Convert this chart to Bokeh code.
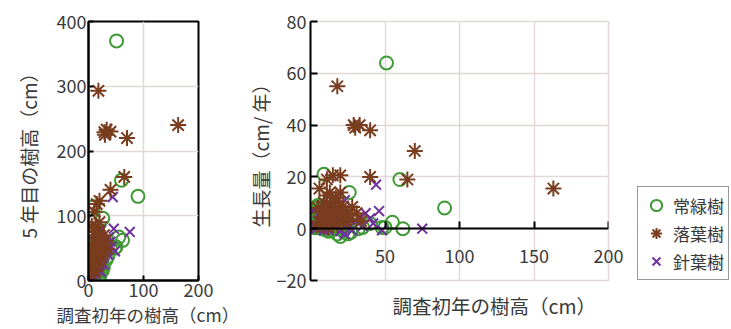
from bokeh.plotting import figure
from bokeh.layouts import row
from bokeh.models import Range1d, FixedTicker, Legend, LegendItem, LinearAxis, Title
from bokeh.embed import file_html
from bokeh.resources import INLINE

FONT = "Noto Sans CJK JP"
TXT = "#3a3a3a"
GRID = "#e2d8d8"

# ---- data: initial height (cm), height after 5 years (cm), growth (cm/year)
ever_h0 = [51, 60, 90, 9, 26, 55, 62, 50, 40, 48, 27, 5, 8, 10, 12, 15, 18, 20, 22, 6,
           4, 10, 14, 16, 25, 3, 7, 12, 20, 24, 2, 4, 6, 8, 11, 13, 17, 19, 3, 5, 26, 32, 35,
           20, 18, 12, 8, 5, 3, 10, 14, 6, 9, 16, 2, 4, 20, 22,
           3, 6, 9, 12, 15, 18, 21, 24, 1, 5, 7, 13]
ever_h5 = [370, 155, 130, 114, 96, 67, 62, 52, 50, 50, 20, 40, 50, 30, 45, 20, 55, 25, 40, 10,
           15, 8, 12, 35, 15, 5, 25, 60, 45, 50, 9, 25, 40, 15, 24, 40, 20, 30, 30, 50, 36, 32, 37,
           5, 8, 7, 8, 8, 13, 18, 29, 26, 37, 46, 17, 34, 20, 17,
           43, 51, 44, 27, 40, 38, 31, 29, 21, 15, 37, 53]
ever_g = [64, 19, 8, 21, 14, 2.5, 0, 0.5, 2, 0.5, -1.4, 7, 8.4, 4, 6.6, 1, 7.4, 1, 3.6, 0.8,
          2.2, -0.4, -0.4, 3.8, -2, 0.4, 3.6, 9.6, 5, 5.2, 1.4, 4.2, 6.8, 1.4, 2.6, 5.4, 0.6, 2.2, 5.4, 9, 2, 0, 0.5,
          -3, -2, -1, 0, 0.5, 2, 1.5, 3, 4, 5.5, 6, 3, 6, 0, -1,
          8, 9, 7, 3, 5, 4, 2, 1, 4, 2, 6, 8]

deci_h0 = [18, 29, 30, 33, 40, 70, 65, 163, 40, 20, 15, 11, 6, 13, 13, 20, 31, 8, 10, 14,
           17, 6, 12, 18, 22, 9, 16, 20, 4, 24, 11, 7, 19, 26, 13, 28, 22, 15, 9, 17, 5, 25, 34]
deci_h5 = [293, 229, 225, 233, 230, 220, 160, 240, 140, 123, 118, 106, 84, 83, 58, 55, 61, 40, 30, 50,
           70, 20, 15, 25, 35, 60, 45, 90, 10, 40, 75, 30, 60, 45, 22, 70, 65, 30, 14, 77, 45, 55, 49]
deci_g = [55, 40, 39, 40, 38, 30, 19, 15.5, 20, 20.6, 20.6, 19, 15.5, 14, 9, 7, 6, 6.4, 4, 7.2,
          10.6, 2.8, 0.6, 1.4, 2.6, 10.2, 5.8, 14, 1.2, 3.2, 12.8, 4.6, 8.2, 3.8, 1.8, 8.4, 8.6, 3, 1, 12, 8, 6, 3]

coni_h0 = [44, 46, 75, 48, 37, 23, 23, 2, 5, 8, 10, 12, 15, 18, 20, 25, 30, 33, 28, 35,
           3, 6, 22, 40, 14, 42, 4, 7, 11, 16, 9, 19]
coni_h5 = [129, 80, 75, 45, 67, 78, 13, 37, 20, 15, 30, 10, 25, 40, 15, 35, 45, 55, 25, 40,
           8, 35, 50, 60, 60, 52, 4, 17, 41, 21, 6, 52]
coni_g = [17, 6.8, 0, -0.6, 6, 11, -2, 7, 3, 1.4, 4, -0.4, 2, 4.4, -1, 2, 3, 4.4, -0.6, 1,
          1, 5.8, 5.6, 4, 9.2, 2, 0, 2, 6, 1, -0.6, 6.5]

names = ["常緑樹", "落葉樹", "針葉樹"]
colors = ["#3f9a35", "#7a3c1e", "#7030a0"]

left_x_ticks = [0, 100, 200]
left_y_ticks = [0, 100, 200, 300, 400]
right_x_ticks = [50, 100, 150, 200]
right_y_ticks = [-20, 0, 20, 40, 60, 80]

xlabel = "調査初年の樹高（cm）"
ylabel_left = "5 年目の樹高（cm）"
ylabel_right = "生長量（cm/ 年）"

H = 329


def style_axis(ax):
    ax.major_label_text_font = FONT
    ax.major_label_text_font_size = "18px"
    ax.major_label_text_color = TXT
    ax.minor_tick_line_color = None
    ax.axis_line_color = "black"
    ax.axis_line_width = 2
    ax.major_tick_line_color = "black"
    ax.major_tick_line_width = 2
    ax.major_tick_out = 0
    ax.axis_label_text_font = FONT
    ax.axis_label_text_font_size = "19px"
    ax.axis_label_text_font_style = "normal"
    ax.axis_label_text_color = TXT


def style_grid(p):
    p.grid.grid_line_color = GRID
    p.grid.grid_line_width = 1.5


def add_title(p, text, place, align, offset, standoff, size):
    t = Title(text=text, align=align, offset=offset, standoff=standoff,
              text_font=FONT, text_font_size=size, text_font_style="normal",
              text_color=TXT)
    p.add_layout(t, place)


def draw(p, xs, ys):
    rc = p.scatter(xs[0], ys[0], marker="circle", size=13, fill_color=None,
                   line_color=colors[0], line_width=2)
    rx = p.scatter(xs[2], ys[2], marker="x", size=14,
                   line_color=colors[2], line_width=2)
    ra = p.scatter(xs[1], ys[1], marker="asterisk", size=16,
                   line_color=colors[1], line_width=2)
    return [rc, ra, rx]


# ---- left panel
p1 = figure(width=244, height=H, x_range=Range1d(0, 200), y_range=Range1d(0, 400),
            output_backend="svg", toolbar_location=None,
            min_border_left=88, min_border_right=46, min_border_top=21, min_border_bottom=47)
for ax in p1.xaxis + p1.yaxis:
    style_axis(ax)
    ax.major_tick_in = 5
    ax.major_label_standoff = 2
p1.xaxis.ticker = FixedTicker(ticks=left_x_ticks)
p1.yaxis.ticker = FixedTicker(ticks=left_y_ticks)
p1.xgrid.ticker = FixedTicker(ticks=left_x_ticks)
p1.ygrid.ticker = FixedTicker(ticks=left_y_ticks)
p1.yaxis.axis_label = ylabel_left
p1.yaxis.axis_label_standoff = 12
style_grid(p1)
p1.outline_line_color = "black"
p1.outline_line_width = 2
p1.outline_line_alpha = 1
draw(p1, [ever_h0, deci_h0, coni_h0], [ever_h5, deci_h5, coni_h5])
add_title(p1, xlabel, "below", "left", -32, 0, "17.5px")

# ---- right panel
p2 = figure(width=384, height=H, x_range=Range1d(0, 200), y_range=Range1d(-20, 80),
            output_backend="svg", toolbar_location=None,
            min_border_left=64, min_border_right=20, min_border_top=21, min_border_bottom=49)
for ax in p2.xaxis + p2.yaxis:
    style_axis(ax)
# frame-bottom axis: only its tick labels, lifted up to sit under the y=0 line
bx = p2.xaxis[0]
bx.ticker = FixedTicker(ticks=right_x_ticks)
bx.axis_line_color = None
bx.major_tick_line_color = None
bx.major_label_standoff = -32
bx.axis_label = " "
bx.axis_label_text_font_size = "6px"
bx.axis_label_standoff = 11
# axis drawn through y = 0
zx = LinearAxis(fixed_location=0, ticker=FixedTicker(ticks=right_x_ticks))
style_axis(zx)
zx.major_tick_in = 7
zx.major_label_standoff = 0
zx.major_label_text_font_size = "0px"
zx.major_label_text_alpha = 0
p2.add_layout(zx, "below")
p2.yaxis.ticker = FixedTicker(ticks=right_y_ticks)
p2.yaxis.major_tick_in = 7
p2.yaxis.major_label_standoff = 4
p2.xgrid.ticker = FixedTicker(ticks=[0] + right_x_ticks)
p2.ygrid.ticker = FixedTicker(ticks=right_y_ticks)
style_grid(p2)
p2.outline_line_color = GRID
p2.outline_line_width = 1.5
draw(p2, [ever_h0, deci_h0, coni_h0], [ever_g, deci_g, coni_g])
add_title(p2, ylabel_right, "left", "center", 0, 0, "19px")
add_title(p2, xlabel, "below", "left", 82, 0, "19.5px")

# ---- legend panel
p3 = figure(width=103, height=H, x_range=Range1d(0, 1), y_range=Range1d(0, 1),
            output_backend="svg", toolbar_location=None, x_axis_type=None, y_axis_type=None,
            min_border_left=0, min_border_right=0, min_border_top=0, min_border_bottom=0)
p3.outline_line_color = None
p3.grid.visible = False
rs = draw(p3, [[-10], [-10], [-10]], [[-10], [-10], [-10]])
legend = Legend(items=[LegendItem(label=names[i], renderers=[rs[i]]) for i in range(3)],
                location=(9, 0), orientation="vertical")
legend.label_text_font = FONT
legend.label_text_font_size = "17px"
legend.label_text_color = TXT
legend.border_line_color = "#333333"
legend.border_line_width = 1.5
legend.background_fill_alpha = 1
legend.padding = 4
legend.spacing = 0
legend.margin = 0
legend.label_height = 28
legend.glyph_height = 28
legend.glyph_width = 28
legend.label_standoff = 3
p3.add_layout(legend, "center")

layout = row(p1, p2, p3)
open("out.html", "w").write(file_html(layout, INLINE))
